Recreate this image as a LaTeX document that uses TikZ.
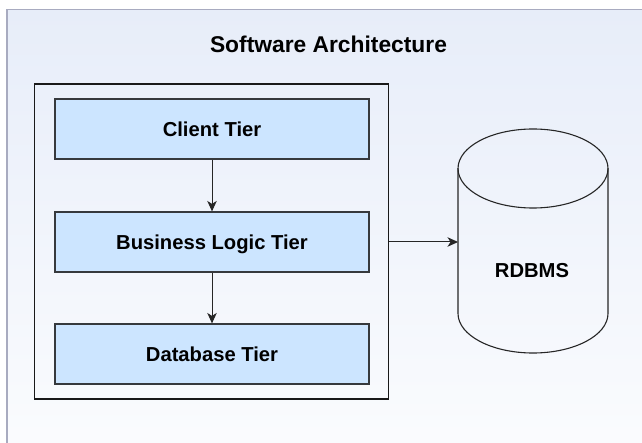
\documentclass[tikz,border=0pt]{standalone}
\usepackage{fontspec}
\newfontfamily\tierfont{Liberation Sans}
\usetikzlibrary{arrows.meta,shapes.geometric}
\definecolor{tierfill}{HTML}{CCE5FF}
\definecolor{tierdraw}{HTML}{36393D}
\definecolor{outerdraw}{HTML}{A8ABC0}
\definecolor{bgtop}{HTML}{E7EDF9}
\definecolor{bgbot}{HTML}{FBFCFE}
\tikzset{
  tierbox/.style={draw=tierdraw, fill=tierfill, line width=1.2pt, minimum width=314pt, minimum height=60pt, inner sep=0pt,
    text height=14.3pt, text depth=0pt,
    font=\tierfont\bfseries\fontsize{20.2}{23}\selectfont},
  link/.style={draw=black!85, line width=1pt, -{Stealth[length=10.5pt,width=9.5pt,inset=3pt]}},
}
\begin{document}
\begin{tikzpicture}[x=1pt,y=-1pt]
\useasboundingbox (0,0) rectangle (642,443);
\fill[white] (0,0) rectangle (642,443);
% outer container with gradient
\shade[top color=bgtop, bottom color=bgbot] (7,9.5) rectangle (660,460);
\draw[outerdraw, line width=1.5pt] (7,460) -- (7,9.5) -- (660,9.5);
% title
\node[anchor=base, inner sep=0pt] (title) at (328.5,52.7) {\tierfont\bfseries\fontsize{22.8}{26}\selectfont Software Architecture};
% inner box
\node[draw=black!90, line width=1.2pt, minimum width=354pt, minimum height=315pt, inner sep=0pt] (inner) at (211.5,241.5) {};
% tiers
\node[tierbox] (client) at (212,129) {Client Tier};
\node[tierbox] (business) at (212,242) {Business Logic Tier};
\node[tierbox] (database) at (212,354) {Database Tier};
\draw[link] (client) -- (business);
\draw[link] (business) -- (database);
% cylinder
\draw[black!85, line width=1.1pt] (458,168.5) -- (458,313.5) arc[start angle=180, end angle=360, x radius=75pt, y radius=39.5pt] -- (608,168.5);
\draw[black!85, line width=1.1pt] (533,168.5) ellipse[x radius=75pt, y radius=39.5pt];
\node[inner sep=0pt, text height=14.3pt, text depth=0pt, font=\tierfont\bfseries\fontsize{20.2}{23}\selectfont] (rdbms) at (532,270.3) {RDBMS};
\coordinate (cylwest) at (458,242);
\draw[link] (inner.east |- cylwest) -- (cylwest);
\end{tikzpicture}
\end{document}
